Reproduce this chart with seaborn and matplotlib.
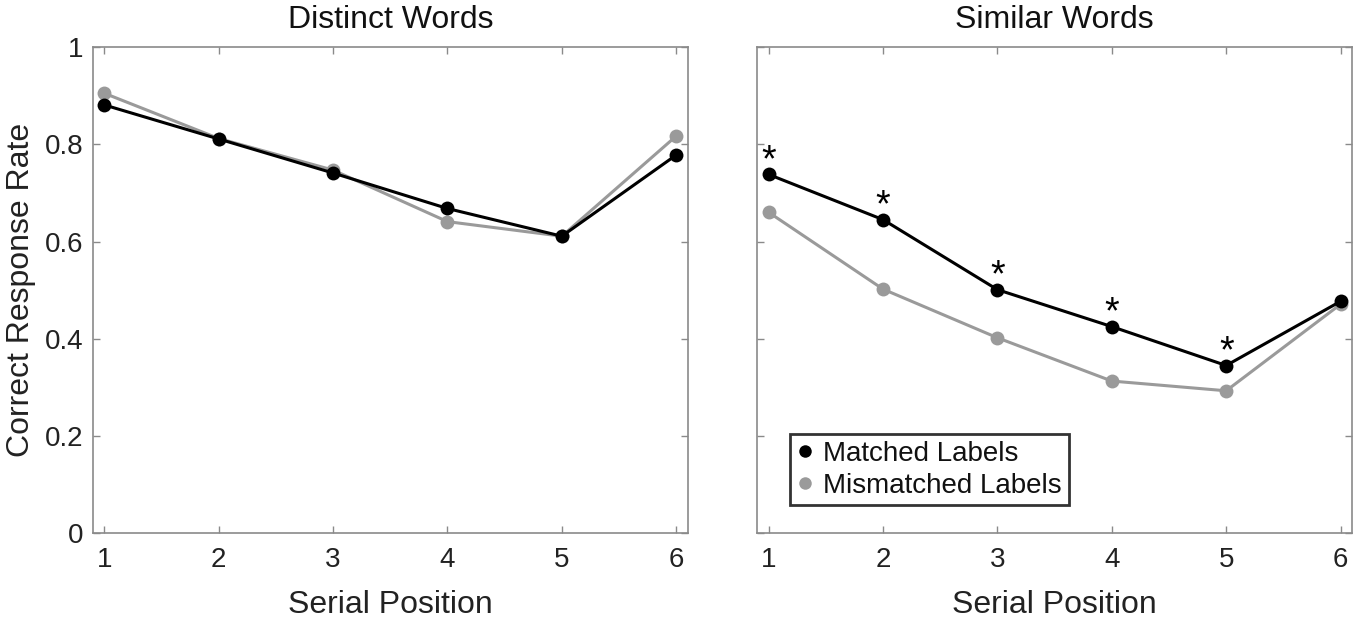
import matplotlib
matplotlib.use("Agg")
import matplotlib.pyplot as plt
from matplotlib.lines import Line2D
import seaborn as sns
import pandas as pd

# ---- data ----
positions = [1, 2, 3, 4, 5, 6]
distinct_matched = [0.881, 0.811, 0.741, 0.668, 0.611, 0.778]
distinct_mismatched = [0.905, 0.812, 0.747, 0.641, 0.611, 0.817]
similar_matched = [0.738, 0.645, 0.501, 0.425, 0.345, 0.477]
similar_mismatched = [0.660, 0.502, 0.402, 0.313, 0.293, 0.471]
significant_positions = [1, 2, 3, 4, 5]
panel_titles = ["Distinct Words", "Similar Words"]
series_names = ["Matched Labels", "Mismatched Labels"]
y_ticks = [0, 0.2, 0.4, 0.6, 0.8, 1]
y_ticklabels = ["0", "0.2", "0.4", "0.6", "0.8", "1"]

sns.set_theme(style="white")
plt.rcParams["font.family"] = ["Liberation Sans", "DejaVu Sans"]

colors = {"Matched Labels": "#000000", "Mismatched Labels": "#9a9a9a"}
spine_color = "#8a8a8a"

def make_df(m, mm):
    rows = []
    for p, v in zip(positions, m):
        rows.append({"pos": p, "rate": v, "cond": series_names[0]})
    for p, v in zip(positions, mm):
        rows.append({"pos": p, "rate": v, "cond": series_names[1]})
    return pd.DataFrame(rows)

fig = plt.figure(figsize=(13.67, 6.2), dpi=100)
ax1 = fig.add_axes([0.068, 0.140, 0.435, 0.784])
ax2 = fig.add_axes([0.554, 0.140, 0.435, 0.784])

for ax, title, (m, mm) in zip([ax1, ax2], panel_titles,
                              [(distinct_matched, distinct_mismatched),
                               (similar_matched, similar_mismatched)]):
    df = make_df(m, mm)
    sns.lineplot(data=df, x="pos", y="rate", hue="cond",
                 hue_order=[series_names[1], series_names[0]],
                 palette=colors, marker="o", markersize=10, markeredgewidth=0,
                 linewidth=2.2, legend=False, ax=ax, zorder=3)
    ax.set_xlim(0.9, 6.1)
    ax.set_ylim(0, 1)
    ax.set_xticks(positions)
    ax.set_xticklabels([str(p) for p in positions], fontsize=20, color="#222222")
    ax.set_yticks(y_ticks)
    ax.set_title(title, fontsize=23, color="#111111", pad=14)
    ax.set_xlabel("Serial Position", fontsize=23, color="#222222", labelpad=12)
    ax.tick_params(direction="in", length=5, width=1, color=spine_color,
                   top=True, right=True, bottom=True, left=True)
    ax.tick_params(axis="x", pad=10)
    ax.tick_params(axis="y", pad=7)
    for s in ax.spines.values():
        s.set_color(spine_color)
        s.set_linewidth(1.2)
        s.set_visible(True)

ax1.set_yticklabels(y_ticklabels, fontsize=20, color="#222222")
ax1.set_ylabel("Correct Response Rate", fontsize=23, color="#222222", labelpad=6)
ax2.set_yticklabels([])
ax2.set_ylabel("")

# significance asterisks
for p in significant_positions:
    v = similar_matched[positions.index(p)]
    ax2.text(p, v + 0.006, "*", ha="center", va="baseline", fontsize=27, color="#000000")

handles = [Line2D([], [], linestyle="None", marker="o", markersize=9,
                  markeredgewidth=0, color=colors[n]) for n in series_names]
leg = ax2.legend(handles, series_names, loc="lower left",
                 bbox_to_anchor=(0.055, 0.057), fontsize=20, frameon=True,
                 fancybox=False, handlelength=0.6, handletextpad=0.35,
                 borderpad=0.25, labelspacing=0.2, borderaxespad=0)
leg.get_frame().set_edgecolor("#000000")
leg.get_frame().set_linewidth(2)
for t in leg.get_texts():
    t.set_color("#111111")

fig.savefig("out.png", dpi=100)
